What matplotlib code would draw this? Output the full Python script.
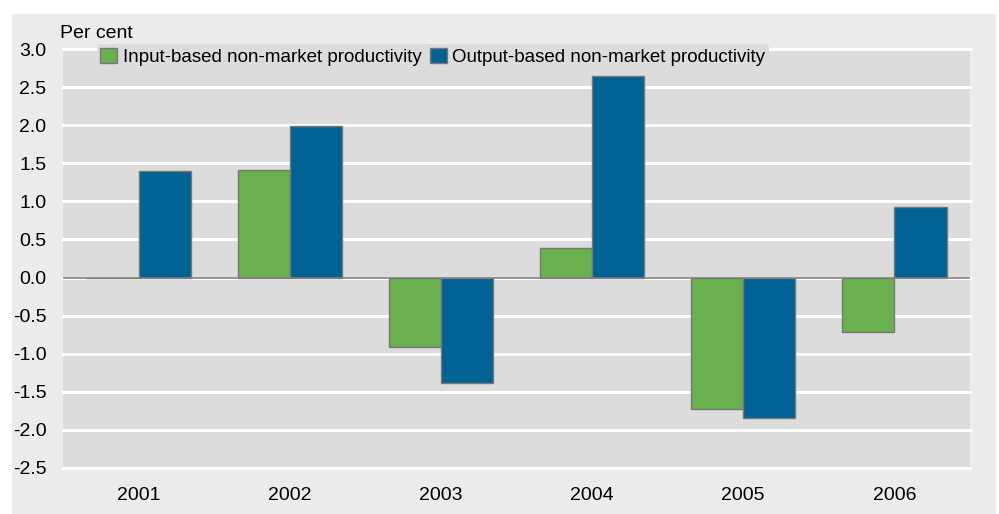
import matplotlib
matplotlib.use('Agg')
import matplotlib.pyplot as plt
import numpy as np
from matplotlib.patches import Rectangle

# data
years = ['2001', '2002', '2003', '2004', '2005', '2006']
input_based = [0.0, 1.41, -0.91, 0.39, -1.73, -0.72]
output_based = [1.40, 1.99, -1.38, 2.65, -1.84, 0.93]
yticks = [3.0, 2.5, 2.0, 1.5, 1.0, 0.5, 0.0, -0.5, -1.0, -1.5, -2.0, -2.5]

green = '#6ab04f'
blue = '#006294'
plot_bg = '#dcdcdc'
outer_bg = '#ebebeb'

plt.rcParams['font.family'] = ['Liberation Sans', 'DejaVu Sans']

fig = plt.figure(figsize=(9.99, 5.14), dpi=100)
fig.patch.set_facecolor('white')
# outer grey panel
fig.patches.append(Rectangle((12/999, 0), (996-12)/999, (514-14)/514,
                             transform=fig.transFigure, facecolor=outer_bg,
                             edgecolor='none', zorder=-10))

ax = fig.add_axes([63/999, 46/514, (970-63)/999, (468-49)/514])
ax.set_facecolor(plot_bg)

x = np.arange(len(years))
w = 0.345
ax.bar(x - w/2, input_based, w, color=green, edgecolor='#777777', linewidth=1,
       label='Input-based non-market productivity', zorder=3)
ax.bar(x + w/2, output_based, w, color=blue, edgecolor='#777777', linewidth=1,
       label='Output-based non-market productivity', zorder=3)
ax.axhline(0, color='#808080', linewidth=1.2, zorder=4)

ax.set_xlim(-0.5, 5.5)
ax.set_ylim(-2.5, 3.0)
ax.set_yticks(yticks)
ax.set_yticklabels([f'{v:.1f}' for v in yticks])
ax.set_xticks(x)
ax.set_xticklabels(years)
ax.yaxis.grid(True, color='white', linewidth=2.2, zorder=1)
for gl in ax.get_ygridlines():
    gl.set_clip_on(False)
ax.set_axisbelow(True)
for s in ax.spines.values():
    s.set_visible(False)
ax.tick_params(axis='both', length=0, labelsize=14, colors='black')
ax.tick_params(axis='y', pad=12)
ax.tick_params(axis='x', pad=14)

fig.text(60/999, 1 - 34/514, 'Per cent', fontsize=14, va='center', ha='left')

leg = ax.legend(loc='upper left', bbox_to_anchor=(0.037, 1.012), ncol=2,
                frameon=True, fontsize=13.5, handlelength=0.9, handleheight=0.9,
                handletextpad=0.3, columnspacing=0.45, borderpad=0.2, borderaxespad=0)
leg.get_frame().set_facecolor(plot_bg)
leg.get_frame().set_edgecolor('none')
leg.get_frame().set_alpha(1)
leg.set_zorder(5)

fig.savefig('out.png', dpi=100)
